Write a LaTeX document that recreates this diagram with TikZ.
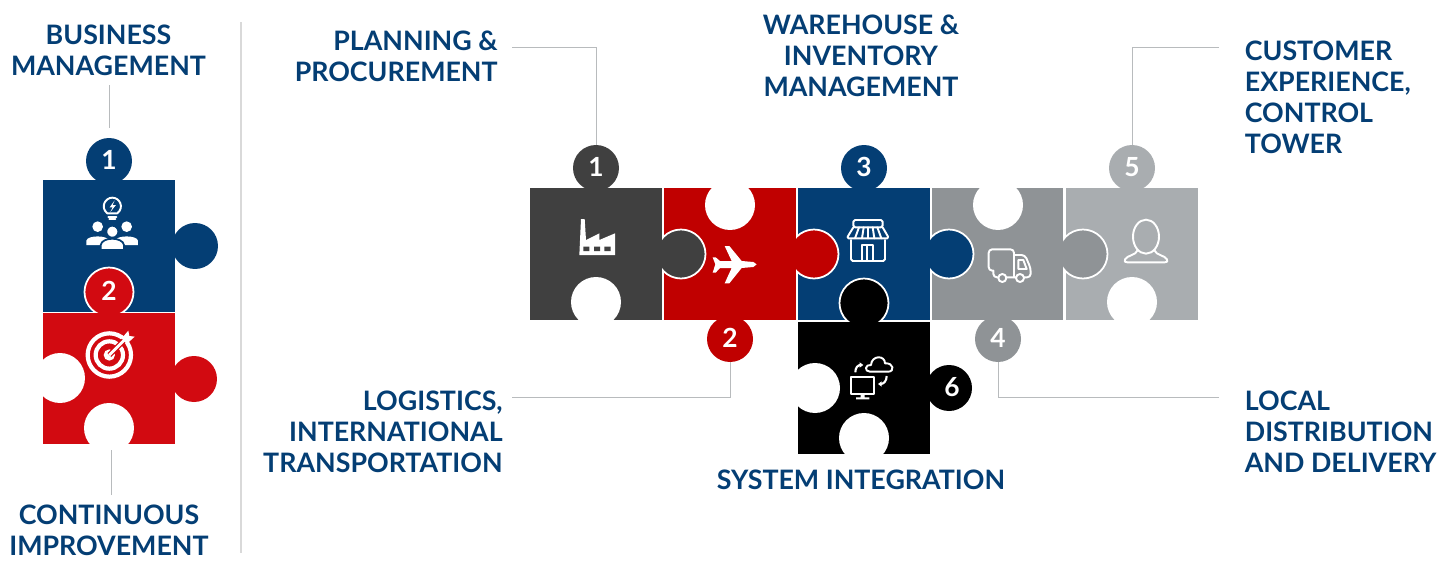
\documentclass[tikz,border=0pt]{standalone}
\usepackage{fontspec}
\setmainfont{Lato}
\definecolor{navy}{HTML}{043E74}
\definecolor{brightred}{HTML}{D20A11}
\definecolor{deepred}{HTML}{C00000}
\definecolor{charcoal}{HTML}{404040}
\definecolor{midgrey}{HTML}{8F9396}
\definecolor{palegrey}{HTML}{A9ADB0}
\definecolor{leadgrey}{HTML}{B8BBBD}
\tikzset{
    piece/.style={rectangle, minimum size=2.64cm, inner sep=0pt},
    badge/.style={circle, minimum size=0.92cm, inner sep=0pt, text=white, text depth=0.04cm,
        font=\fontsize{15}{16}\selectfont\bfseries},
    overknob/.style={badge, minimum size=0.98cm, draw=white, line width=1pt},
    hole/.style={circle, minimum size=1cm, inner sep=0pt, fill=white},
    title/.style={text=navy, inner sep=0pt, font=\fontsize{15.25}{17.6}\selectfont\bfseries},
    leader/.style={draw=leadgrey, line width=0.5pt},
    iconline/.style={draw=white, line width=1.1pt, line join=round, line cap=round},
}
\begin{document}
\begin{tikzpicture}[x=0.02cm, y=-0.02cm]
    \useasboundingbox (0,0) rectangle (1451,565);

    % Divider between the two groups
    \draw[draw=black!15, line width=0.8pt] (241,22) -- (241,553);

    % Left column
    \node[badge, fill=navy] (topone) at (109,161) {1};
    \node[badge, fill=navy] (topknob) at (195,246) {};
    \node[piece, fill=navy] (topbox) at (109,246) {};
    \node[overknob, fill=brightred] (toptwo) at (109,292) {2};
    \node[badge, fill=brightred] (lowknob) at (194,379) {};
    \node[piece, fill=brightred] (lowbox) at (109,378.5) {};
    \node[hole] (lowleft) at (60,378) {};
    \node[hole] (lowdown) at (109,428) {};

    % Main row, drawn from the right so each knob lies over its neighbour
    \node[badge, fill=palegrey] (five) at (1132,168) {5};
    \node[piece, fill=palegrey] (palebox) at (1132,254) {};
    \node[hole] (paledown) at (1132,302) {};
    \node[overknob, fill=midgrey] (midknob) at (1083,254) {};
    \node[badge, fill=midgrey] (four) at (998,339) {4};
    \node[piece, fill=midgrey] (midbox) at (997.5,254) {};
    \node[hole] (midup) at (998,205) {};
    \node[overknob, fill=navy] (navyknob) at (949,254) {};
    \node[badge, fill=navy] (three) at (864,168) {3};
    \node[piece, fill=navy] (navybox) at (864,254) {};
    \node[overknob, fill=deepred] (redknob) at (814,254) {};
    \node[badge, fill=deepred] (two) at (730,339) {2};
    \node[piece, fill=deepred] (redbox) at (730,254) {};
    \node[hole] (redup) at (730,205) {};
    \node[overknob, fill=charcoal] (darkknob) at (681,254) {};
    \node[badge, fill=charcoal] (one) at (596,168) {1};
    \node[piece, fill=charcoal] (darkbox) at (596,254) {};
    \node[hole] (darkdown) at (596,302) {};

    % Piece below the row
    \node[overknob, fill=black] (blackknob) at (864,303) {};
    \node[badge, fill=black] (six) at (949,388) {\kern0.12cm 6};
    \node[piece, fill=black] (blackbox) at (864,388) {};
    \node[hole] (blackleft) at (815,388) {};
    \node[hole] (blackdown) at (864,438) {};

    % Titles
    \node[title, align=center] (business) at (108.5,50) {BUSINESS\\MANAGEMENT};
    \node[title, align=center] (improve) at (109,530) {CONTINUOUS\\IMPROVEMENT};
    \node[title, align=right, anchor=east] (planning) at (498,56) {PLANNING \&\\PROCUREMENT};
    \node[title, align=right, anchor=east] (logistics) at (503,432) {LOGISTICS,\\INTERNATIONAL\\TRANSPORTATION};
    \node[title, align=center] (warehouse) at (861,56) {WAREHOUSE \&\\INVENTORY\\MANAGEMENT};
    \node[title, align=left, anchor=west] (customer) at (1244.5,97) {CUSTOMER\\EXPERIENCE,\\CONTROL\\TOWER};
    \node[title, align=left, anchor=west] (local) at (1244.5,432) {LOCAL\\DISTRIBUTION\\AND DELIVERY};
    \node[title] (system) at (861,480) {SYSTEM INTEGRATION};

    % Leader lines
    \coordinate (tagbusiness) at (109.5,85);
    \coordinate (tagimprove) at (111,495);
    \coordinate (tagplanning) at (512,47);
    \coordinate (taglogistics) at (512,397);
    \coordinate (taglocal) at (1219,397);
    \coordinate (tagcustomer) at (1219,47);
    \draw[leader, shorten >=0.2cm] (tagbusiness) -- (tagbusiness |- topone.north);
    \draw[leader, shorten >=0.1cm] (tagimprove) -- (tagimprove |- lowbox.south);
    \draw[leader] (tagplanning) -| (one.north);
    \draw[leader] (taglogistics) -| (two.south);
    \draw[leader] (taglocal) -| (four.south);
    \draw[leader] (tagcustomer) -| (five.north);

    % Bulb and people
    \begin{scope}[shift={(0,120)}, scale=1/3]
        \draw[iconline] (322,280) .. controls (300,262) and (315,233) .. (337,233)
            .. controls (359,233) and (374,262) .. (352,280) -- cycle;
        \fill[white] (344,241) -- (329,262) -- (338,262) -- (331,276) -- (348,255) -- (338,255) -- cycle;
        \draw[iconline] (325,290) -- (349,290) (328,298) -- (346,298);
        \fill[white] (293,320) circle (16) (380,320) circle (16);
        \fill[white] (259,375) -- (259,362) .. controls (262,345) and (324,345) .. (327,362) -- (327,375) -- cycle;
        \fill[white] (346,375) -- (346,362) .. controls (349,345) and (411,345) .. (414,362) -- (414,375) -- cycle;
        \draw[navy, line width=1pt, fill=white] (337,335) circle (18);
        \draw[navy, line width=1pt, fill=white] (302,390) -- (302,375) .. controls (306,350) and (368,350) .. (372,375) -- (372,390) -- cycle;
    \end{scope}

    % Target
    \begin{scope}[shift={(0,120)}, scale=1/3]
        \draw[white, line width=2.4pt] (328,705) circle (65);
        \draw[white, line width=2.4pt] (328,705) circle (41);
        \fill[white] (328,705) circle (17);
        \draw[brightred, line width=3pt] (328,705) -- (372,661);
        \draw[white, line width=1.6pt] (328,705) -- (372,661);
        \fill[white] (365,655) -- (385,632) -- (388,648) -- (404,650) -- (380,672) -- cycle;
    \end{scope}

    % Factory
    \begin{scope}[shift={(520,140)}, scale=1/3]
        \fill[white] (178,345) -- (183,237) -- (194,237) -- (198,300) -- (238,280) -- (238,300) -- (285,280) -- (285,345) -- cycle;
        \fill[charcoal] (190,320) rectangle (208,333) (222,320) rectangle (240,333) (253,320) rectangle (272,333);
    \end{scope}

    % Plane
    \begin{scope}[shift={(520,140)}, scale=1/3]
        \fill[white] (710,373) -- (700,366) -- (665,363) -- (628,318) -- (614,318) -- (635,363) -- (600,363)
            -- (587,352) -- (578,352) -- (586,373) -- (578,398) -- (587,398) -- (600,384) -- (635,384)
            -- (614,430) -- (628,430) -- (665,384) -- (700,381) -- cycle;
    \end{scope}

    % Store
    \begin{scope}[shift={(790,140)}, scale=1/3]
        \draw[iconline, rounded corners=1pt] (190,262) -- (190,240) -- (278,240) -- (278,262) -- cycle;
        \draw[iconline, rounded corners=1pt] (190,262) -- (170,295) -- (297,295) -- (278,262);
        \draw[iconline] (207,262) -- (195,295) (221,262) -- (216,295) (234,262) -- (234,295) (248,262) -- (253,295) (262,262) -- (274,295);
        \draw[iconline, rounded corners=1pt] (183,300) -- (183,363) -- (285,363) -- (285,300);
        \draw[iconline] (215,363) -- (215,316) -- (250,316) -- (250,363) (232,316) -- (232,363);
    \end{scope}

    % Truck
    \begin{scope}[shift={(790,140)}, scale=1/3]
        \draw[iconline, rounded corners=2pt] (610,392) -- (596,392) -- (596,328) -- (672,328) -- (672,412);
        \draw[iconline, rounded corners=2pt] (672,345) -- (705,345) -- (722,385) -- (722,412) -- (610,412) -- (610,392);
        \draw[iconline] (685,360) -- (700,360) -- (710,387) -- (685,387) -- cycle;
        \draw[iconline, fill=midgrey] (637,414) circle (12) (690,414) circle (12);
    \end{scope}

    % Person
    \begin{scope}[shift={(790,140)}, scale=1/3]
        \draw[iconline] (1068,290) ellipse (39 and 51);
        \draw[iconline] (1042,332) .. controls (1038,345) and (1012,346) .. (1005,358)
            .. controls (1001,365) and (1006,367) .. (1012,367) -- (1124,367)
            .. controls (1130,367) and (1135,365) .. (1131,358)
            .. controls (1124,346) and (1098,345) .. (1094,332);
    \end{scope}

    % Monitor and cloud
    \begin{scope}[shift={(790,140)}, scale=1/3]
        \draw[iconline] (182,710) rectangle (252,762);
        \fill[white] (212,762) rectangle (224,775) (198,772) rectangle (238,778);
        \draw[iconline] (240,695) .. controls (222,695) and (225,672) .. (243,675)
            .. controls (245,645) and (285,645) .. (285,670) .. controls (312,668) and (314,695) .. (295,695) -- cycle;
        \draw[white, line width=1.2pt] (196,697) .. controls (196,682) and (204,675) .. (212,675);
        \fill[white] (209,667) -- (220,675) -- (209,683) -- cycle;
        \draw[white, line width=1.2pt] (290,708) .. controls (290,722) and (282,732) .. (272,732);
        \fill[white] (275,724) -- (264,732) -- (275,740) -- cycle;
    \end{scope}
\end{tikzpicture}
\end{document}
